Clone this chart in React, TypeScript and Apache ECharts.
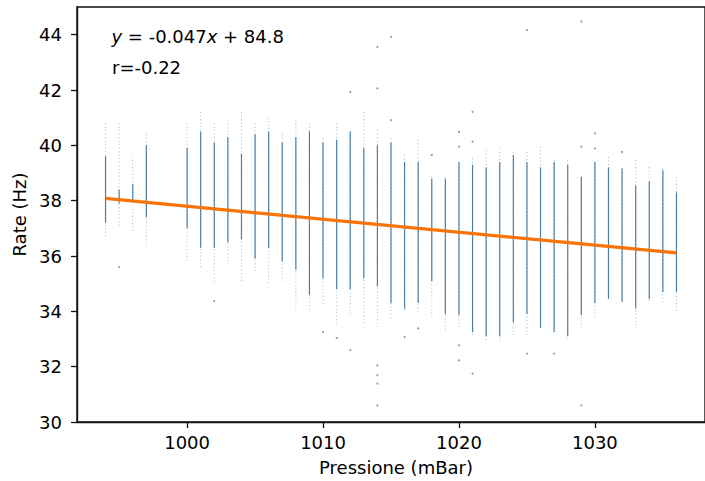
import React, { useEffect, useRef } from "react";
import * as echarts from "echarts";

// Pressure columns (mBar)
const pressure = [994, 995, 996, 997, 1000, 1001, 1002, 1003, 1004, 1005, 1006, 1007, 1008, 1009, 1010, 1011, 1012, 1013, 1014, 1015, 1016, 1017, 1018, 1019, 1020, 1021, 1022, 1023, 1024, 1025, 1026, 1027, 1028, 1029, 1030, 1031, 1032, 1033, 1034, 1035, 1036];
// Highest sparse point of each column (Hz)
const sparseHigh = [40.8, 40.8, 39.6, 40.4, 40.8, 41.2, 40.8, 40.9, 41.2, 40.8, 41.0, 40.4, 40.9, 40.8, 40.25, 40.8, 40.5, 41.2, 40.55, 40.25, 39.65, 40.2, 38.9, 38.8, 39.4, 39.53, 39.83, 39.89, 39.76, 39.76, 39.95, 39.47, 39.47, 38.86, 39.4, 39.58, 39.16, 39.47, 39.22, 39.16, 38.86];
// Dense core of each column (Hz)
const coreHigh = [39.6, 38.4, 38.6, 40.0, 39.9, 40.5, 40.1, 40.3, 39.7, 40.4, 40.5, 40.1, 40.3, 40.5, 40.1, 40.2, 40.5, 39.9, 40.0, 40.1, 39.4, 39.4, 38.8, 38.8, 39.4, 39.3, 39.2, 39.4, 39.65, 39.4, 39.2, 39.4, 39.3, 38.86, 39.4, 39.2, 39.16, 38.55, 38.7, 39.1, 38.3];
const coreLow = [37.2, 37.9, 38.0, 37.4, 37.0, 36.3, 36.3, 36.5, 36.6, 35.9, 36.3, 35.8, 35.5, 34.6, 35.2, 34.8, 34.8, 35.2, 34.9, 34.3, 34.1, 34.3, 35.1, 33.9, 33.86, 33.25, 33.1, 33.1, 33.6, 33.9, 33.4, 33.25, 33.1, 33.86, 34.3, 34.45, 34.34, 34.1, 34.45, 34.7, 34.7];
// Lowest sparse point of each column (Hz)
const sparseLow = [36.7, 37.1, 36.8, 36.4, 35.8, 35.55, 35.05, 35.7, 35.05, 35.4, 35.0, 35.06, 34.05, 34.0, 34.2, 33.5, 33.8, 33.5, 33.44, 33.74, 34.0, 33.9, 33.74, 33.25, 33.38, 33.14, 32.9, 32.9, 33.14, 33.07, 33.4, 33.14, 33.0, 33.32, 33.74, 34.4, 34.34, 33.44, 34.34, 34.34, 33.98];

// Isolated points
const outlierPressure = [995, 1002, 1010, 1011, 1012, 1012, 1014, 1014, 1014, 1014, 1014, 1014, 1015, 1015, 1016, 1017, 1018, 1020, 1020, 1020, 1020, 1021, 1021, 1021, 1025, 1025, 1027, 1029, 1029, 1029, 1030, 1030, 1032];
const outlierRate = [35.6, 34.37, 33.25, 33.04, 41.93, 32.6, 43.56, 42.06, 32.05, 31.69, 31.39, 30.6, 43.92, 40.91, 33.07, 33.38, 39.65, 40.49, 39.95, 32.77, 32.23, 41.21, 40.13, 31.75, 44.17, 32.47, 32.47, 44.47, 39.95, 30.6, 40.43, 39.89, 39.76];

// Regression line end points
const fitPressure = [994, 1036];
const fitRate = [38.08, 36.11];

const xTicks = [1000, 1010, 1020, 1030];
const yTicks = [30, 32, 34, 36, 38, 40, 42, 44];

const FONT = "DejaVu Sans";

export default function App() {
  const ref = useRef<HTMLDivElement>(null);
  useEffect(() => {
    if (!ref.current) return;
    const chart = echarts.init(ref.current, undefined, { renderer: "svg" });
    const columns = pressure.map((p, i) => [p, sparseHigh[i], coreHigh[i], coreLow[i], sparseLow[i]]);
    const outliers = outlierPressure.map((p, i) => [p, outlierRate[i]]);
    const fit = fitPressure.map((p, i) => [p, fitRate[i]]);
    chart.setOption({
      animation: false,
      backgroundColor: "#ffffff",
      grid: {
        left: 77,
        top: 7,
        width: 638,
        height: 415,
        show: true,
        borderColor: "#111",
        borderWidth: 1.4,
        backgroundColor: "transparent",
      },
      xAxis: {
        type: "value",
        min: 991.9,
        max: 1038.1,
        axisLine: { show: true, lineStyle: { color: "#111", width: 1.4 } },
        axisTick: { show: true, length: 6, customValues: xTicks, lineStyle: { color: "#111", width: 1.3 } },
        axisLabel: {
          customValues: xTicks,
          margin: 11,
          fontSize: 18,
          fontFamily: FONT,
          color: "#000",
          formatter: (v: number) => String(v),
        },
        splitLine: { show: false },
      },
      yAxis: {
        type: "value",
        min: 30,
        max: 45,
        axisLine: { show: true, lineStyle: { color: "#111", width: 1.4 } },
        axisTick: { show: true, length: 6, customValues: yTicks, lineStyle: { color: "#111", width: 1.3 } },
        axisLabel: {
          customValues: yTicks,
          margin: 15,
          fontSize: 18,
          fontFamily: FONT,
          color: "#000",
          formatter: (v: number) => String(v),
        },
        splitLine: { show: false },
      },
      series: [
        {
          type: "custom",
          data: columns,
          encode: { x: 0, y: [1, 2, 3, 4] },
          renderItem: (params: any, api: any) => {
            const p = api.value(0);
            const a = api.coord([p, api.value(1)]);
            const b = api.coord([p, api.value(4)]);
            const c = api.coord([p, api.value(2)]);
            const d = api.coord([p, api.value(3)]);
            return {
              type: "group",
              children: [
                {
                  type: "line",
                  shape: { x1: a[0], y1: a[1], x2: b[0], y2: b[1] },
                  style: { stroke: "#3b78a8", lineWidth: 1, lineDash: [1, 2.5], opacity: 0.5 },
                },
                {
                  type: "line",
                  shape: { x1: c[0], y1: c[1], x2: d[0], y2: d[1] },
                  style: { stroke: "#3a73a0", lineWidth: 1.2, opacity: 0.9 },
                },
              ],
            };
          },
          z: 2,
        },
        {
          type: "scatter",
          data: outliers,
          symbol: "circle",
          symbolSize: 2,
          itemStyle: { color: "#3b78a8", opacity: 0.7 },
          z: 2,
        },
        {
          type: "line",
          data: fit,
          showSymbol: false,
          symbol: "none",
          lineStyle: { color: "#f97306", width: 3.3 },
          z: 5,
        },
      ],
      graphic: [
        {
          type: "text",
          x: 111.5,
          y: 36.5,
          style: {
            text: "{i|y} = -0.047{i|x} + 84.8",
            fontSize: 18,
            fontFamily: FONT,
            fill: "#000",
            verticalAlign: "middle",
            rich: {
              i: { fontSize: 18, fontFamily: FONT, fontStyle: "italic", fill: "#000" },
            },
          },
          z: 10,
        },
        {
          type: "text",
          x: 112,
          y: 67,
          style: { text: "r=-0.22", fontSize: 18, fontFamily: FONT, fill: "#000", verticalAlign: "middle" },
          z: 10,
        },
        {
          type: "text",
          x: 396,
          y: 467,
          style: { text: "Pressione (mBar)", fontSize: 18, fontFamily: FONT, fill: "#000", align: "center", verticalAlign: "middle" },
        },
        {
          type: "text",
          x: 19,
          y: 214.5,
          rotation: Math.PI / 2,
          style: { text: "Rate (Hz)", fontSize: 18, fontFamily: FONT, fill: "#000", align: "center", verticalAlign: "middle" },
        },
      ],
    });
    return () => chart.dispose();
  }, []);
  return (
    <div
      ref={ref}
      style={{ position: "fixed", left: 0, top: 0, width: 705, height: 481, background: "#fff" }}
    />
  );
}
